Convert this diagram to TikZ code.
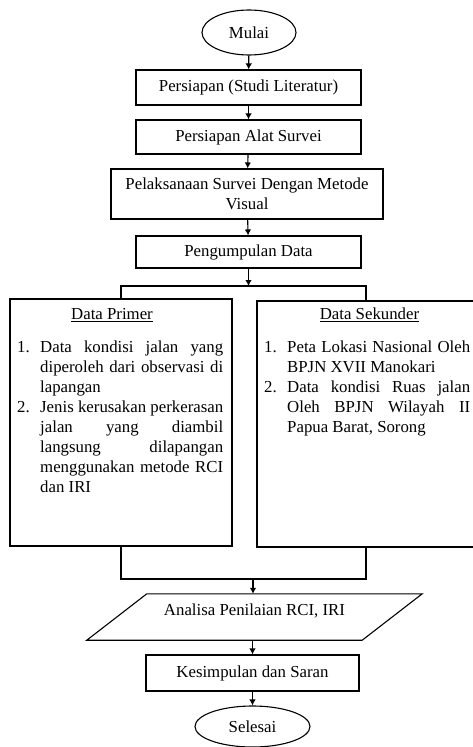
\documentclass[tikz,border=0pt]{standalone}
\usepackage{fontspec}
\setmainfont{Liberation Serif}
\usetikzlibrary{shapes.geometric,arrows.meta}

\newenvironment{butir}{\begin{list}{\arabic{enumi}.}{\usecounter{enumi}%
    \setlength{\leftmargin}{23pt}\setlength{\labelwidth}{12.6pt}%
    \setlength{\labelsep}{10.4pt}\setlength{\topsep}{0pt}%
    \setlength{\partopsep}{0pt}\setlength{\itemsep}{0pt}%
    \setlength{\parsep}{0pt}}}{\end{list}}

\begin{document}
\begin{tikzpicture}[x=1pt, y=-1pt,
    font=\fontsize{16.8}{20}\selectfont,
    terminal/.style={ellipse, draw=black, line width=1.1pt, inner sep=0pt},
    proses/.style={rectangle, draw=black, line width=1.1pt, align=center},
    kolom/.style={rectangle, draw=black, line width=1.1pt},
    isi/.style={anchor=north west, inner sep=0pt, text width=206pt, align=justify},
    garis/.style={line width=1.1pt},
    panah/.style={line width=1.1pt, -{Latex[length=6pt,width=6.5pt]}}
]
    \useasboundingbox (0,0) rectangle (472,747);

    \node[terminal, minimum width=94pt, minimum height=45pt] (mulai) at (249,32.5) {Mulai};
    \node[proses, minimum width=225pt, minimum height=35pt] (studi) at (248.5,87.5) {Persiapan (Studi Literatur)};
    \node[proses, minimum width=225pt, minimum height=34pt] (alat) at (248.5,137) {Persiapan Alat Survei};
    \node[proses, minimum width=272pt, minimum height=50pt] (survei) at (247,194) {Pelaksanaan Survei Dengan Metode\\Visual};
    \node[proses, minimum width=225pt, minimum height=32pt] (kumpul) at (248.5,252) {Pengumpulan Data};

    \node[kolom, minimum width=222pt, minimum height=247pt] (primer) at (121,422.5) {};
    \node[kolom, minimum width=218pt, minimum height=246pt] (sekunder) at (366,424) {};
    \node (judulprimer) at (112,315) {\underline{Data Primer}};
    \node (judulsekunder) at (369.5,315) {\underline{Data Sekunder}};
    \node[isi] (isiprimer) at (17,332) {%
        \begin{butir}
        \item Data kondisi jalan yang\linebreak diperoleh dari observasi di\linebreak lapangan
        \item Jenis kerusakan perkerasan\linebreak jalan yang diambil\linebreak langsung dilapangan\linebreak menggunakan metode RCI\linebreak dan IRI
        \end{butir}};
    \node[isi] (isisekunder) at (264,332) {%
        \begin{butir}
        \item Peta Lokasi Nasional Oleh\linebreak BPJN XVII Manokari
        \item Data kondisi Ruas jalan\linebreak Oleh BPJN Wilayah II\linebreak Papua Barat, Sorong
        \end{butir}};

    \node[minimum width=275pt, minimum height=46pt, text depth=15pt] (analisa) at (254.5,617) {Analisa Penilaian RCI, IRI};
    \draw[garis] ([xshift=30pt]analisa.north west) -- ([xshift=30pt]analisa.north east)
        -- ([xshift=-30pt]analisa.south east) -- ([xshift=-30pt]analisa.south west) -- cycle;
    \node[proses, minimum width=213pt, minimum height=36pt] (simpul) at (252.5,673) {Kesimpulan dan Saran};
    \node[terminal, minimum width=115pt, minimum height=41pt] (selesai) at (252.5,726.5) {Selesai};

    \coordinate (cabang) at (248.5,286);
    \coordinate (gabung) at (253,579);

    \draw[panah] (mulai) -- (studi);
    \draw[panah] (studi) -- (alat);
    \draw[panah] (alat) -- (survei);
    \draw[panah] (survei) -- (kumpul);
    \draw[panah] (kumpul) -- (cabang);
    \draw[garis] (primer.north) |- (cabang) -| (sekunder.north);
    \draw[garis] (primer.south) |- (gabung) -| (sekunder.south);
    \draw[panah] (gabung) -- (gabung |- analisa.north);
    \draw[panah] (analisa.south -| simpul.north) -- (simpul);
    \draw[panah] (simpul) -- (selesai);
\end{tikzpicture}
\end{document}
